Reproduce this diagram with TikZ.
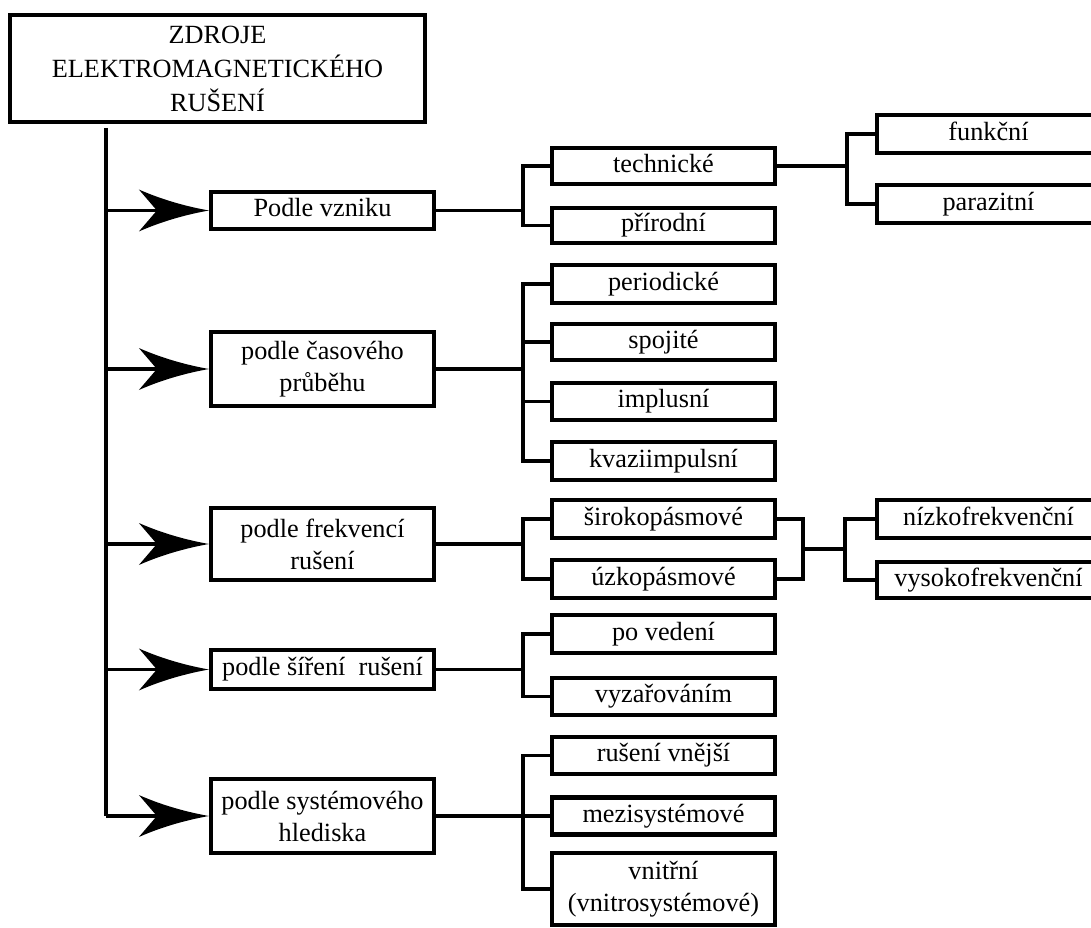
\documentclass[tikz,border=0pt]{standalone}
\usepackage{fontspec}
\setmainfont{Liberation Serif}
\usetikzlibrary{arrows.meta}
\begin{document}
\begin{tikzpicture}[x=0.75pt,y=-0.75pt,
  bx/.style={draw, line width=3.2pt, inner sep=0pt, align=center,
    font=\fontsize{19.7pt}{24pt}\selectfont},
  one/.style={text height=14pt, text depth=4.5pt},
  sz/.style 2 args={minimum width=#1*0.75pt, minimum height=#2*0.75pt},
  conn/.style={line width=2.6pt},
  arrhead/.pic={\fill (0,0) .. controls (-28,-5) and (-52,-13) .. (-70,-21)
      -- (-52,0) -- (-70,21) .. controls (-52,13) and (-28,5) .. (0,0) -- cycle;}]
\useasboundingbox (0,0) rectangle (1091,927);
\clip (0,0) rectangle (1091,927);

% title
\node[bx, sz={415}{107}, line width=3.5pt, font=\fontsize{19.7pt}{25.5pt}\selectfont] (title) at (217.5,68.5) {ZDROJE\\ELEKTROMAGNETICKÉHO\\RUŠENÍ};

% level 1
\node[bx, one, sz={223}{37}] (l1) at (322.5,210.5) {Podle vzniku};
\node[bx, sz={223}{74}] (l2) at (322.5,369) {podle časového\\průběhu};
\node[bx, sz={223}{72}] (l3) at (322.5,544) {podle frekvencí\\rušení};
\node[bx, one, sz={223}{39}] (l4) at (322.5,669.5) {podle šíření\ \ rušení};
\node[bx, sz={223}{74}] (l5) at (322.5,816) {podle systémového\\hlediska};

% level 2
\node[bx, one, sz={223}{36}] (tech) at (663.5,166) {technické};
\node[bx, one, sz={223}{35}] (prir) at (663.5,225.5) {přírodní};
\node[bx, one, sz={223}{38}] (per) at (663.5,284) {periodické};
\node[bx, one, sz={223}{36}] (spo) at (663.5,342) {spojité};
\node[bx, one, sz={223}{37}] (imp) at (663.5,401.5) {implusní};
\node[bx, one, sz={223}{38}] (kva) at (663.5,461) {kvaziimpulsní};
\node[bx, one, sz={223}{38}] (siro) at (663.5,519) {širokopásmové};
\node[bx, one, sz={223}{38}] (uzko) at (663.5,579) {úzkopásmové};
\node[bx, one, sz={223}{38}] (pov) at (663.5,634) {po vedení};
\node[bx, one, sz={223}{37}] (vyz) at (663.5,696.5) {vyzařováním};
\node[bx, one, sz={223}{37}] (rv) at (663.5,755.5) {rušení vnější};
\node[bx, one, sz={223}{37}] (mez) at (663.5,816) {mezisystémové};
\node[bx, sz={223}{72}] (vn) at (663.5,889) {vnitřní\\(vnitrosystémové)};

% level 3
\node[bx, one, sz={223}{38}] (funk) at (988.5,134) {funkční};
\node[bx, one, sz={223}{38}] (para) at (988.5,204) {parazitní};
\node[bx, one, sz={223}{38}] (niz) at (988.5,519) {nízkofrekvenční};
\node[bx, one, sz={223}{36}] (vys) at (988.5,580) {vysokofrekvenční};

% helper coordinates
\coordinate (ttop) at (106,128);
\coordinate (tbot) at (106,816);
\coordinate (b2) at (523,0);
\coordinate (b3a) at (847,0);
\coordinate (b3b) at (803,0);
\coordinate (fm) at (803,549);
\coordinate (fm2) at (845,549);

% trunk and arrows
\draw[conn] (ttop) -- (tbot);
\foreach \n in {l1,l2,l3,l4,l5}{
  \draw[conn] (tbot |- \n.west) -- ([xshift=-30pt]\n.west);
  \pic at (\n.west) {arrhead};
}

% brackets level 1 -> level 2
\draw[conn] (l1.east) -- (b2 |- l1.east);
\draw[conn] (tech.west) -| (b2 |- prir.west) -- (prir.west);

\draw[conn] (l2.east) -- (b2 |- l2.east);
\draw[conn] (per.west) -| (b2 |- kva.west) -- (kva.west);
\draw[conn] (spo.west) -- (b2 |- spo.west);
\draw[conn] (imp.west) -- (b2 |- imp.west);

\draw[conn] (l3.east) -- (b2 |- l3.east);
\draw[conn] (siro.west) -| (b2 |- uzko.west) -- (uzko.west);

\draw[conn] (l4.east) -- (b2 |- l4.east);
\draw[conn] (pov.west) -| (b2 |- vyz.west) -- (vyz.west);

\draw[conn] (l5.east) -- (b2 |- l5.east);
\draw[conn] (rv.west) -| (b2 |- vn.west) -- (vn.west);
\draw[conn] (mez.west) -- (b2 |- mez.west);

% brackets level 2 -> level 3
\draw[conn] (tech.east) -- (b3a |- tech.east);
\draw[conn] (funk.west) -| (b3a |- para.west) -- (para.west);

\draw[conn] (siro.east) -| (b3b |- uzko.east) -- (uzko.east);
\draw[conn] (fm) -- (fm2);
\draw[conn] (niz.west) -| (fm2 |- vys.west) -- (vys.west);
\end{tikzpicture}
\end{document}
